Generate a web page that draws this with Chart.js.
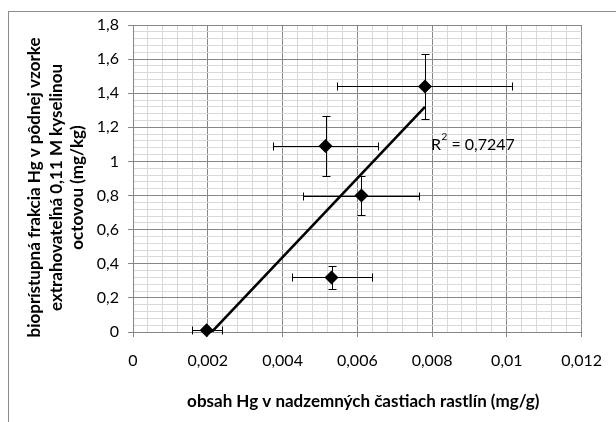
<!DOCTYPE html>
<html><head><meta charset="utf-8">
<script src="https://cdn.jsdelivr.net/npm/chart.js@4/dist/chart.umd.min.js"></script>
<style>html,body{margin:0;padding:0;background:#fff}#wrap{width:616px;height:422px;position:relative}</style>
</head><body><div id="wrap"><canvas id="c" width="616" height="422"></canvas></div>
<script>
// ---- data ----
const xValues = [0.00197, 0.00531, 0.00611, 0.00515, 0.00781];
const yValues = [0.01, 0.32, 0.80, 1.09, 1.44];
const xErrors = [0.0004, 0.00107, 0.00155, 0.0014, 0.00234];
const yErrors = [0.01, 0.065, 0.115, 0.175, 0.19];
const xTickLabels = ['0','0,002','0,004','0,006','0,008','0,01','0,012'];
const yTickLabels = ['0','0,2','0,4','0,6','0,8','1','1,2','1,4','1,6','1,8'];
const xTitle = 'obsah Hg v nadzemných častiach rastlín (mg/g)';
const yTitle = ['bioprístupná frakcia Hg v pôdnej vzorke','extrahovateľná 0,11 M kyselinou','octovou (mg/kg)'];
const r2Base = 'R', r2Sup = '2', r2Rest = ' = 0,7247';
const r2Anchor = [0.00797, 1.10];

// ---- linear trendline (least squares fit of the data) ----
const n = xValues.length;
const mx = xValues.reduce((a,b)=>a+b,0)/n, my = yValues.reduce((a,b)=>a+b,0)/n;
let sxy=0, sxx=0;
for (let i=0;i<n;i++){ sxy+=(xValues[i]-mx)*(yValues[i]-my); sxx+=(xValues[i]-mx)**2; }
const slope = sxy/sxx, icpt = my - slope*mx;
const xmin = Math.min(...xValues), xmax = Math.max(...xValues);
const trend = [{x:xmin, y:icpt+slope*xmin},{x:xmax, y:icpt+slope*xmax}];

const MINOR = '#d9d9d9', MAJOR = '#878787', FONT = 'Lato';
const isMajor = c => c.index % 5 === 0;

const frame = { id:'frame', beforeDraw(chart){
  const ctx = chart.ctx; ctx.save();
  ctx.fillStyle='#fff'; ctx.fillRect(0,0,chart.width,chart.height);
  ctx.strokeStyle='#8c8c8c'; ctx.lineWidth=1;
  ctx.strokeRect(8.5, 11.5, chart.width+20, chart.height+20);
  ctx.restore();
}};

const titles = { id:'titles', afterDraw(chart){
  const {ctx, chartArea:ca} = chart;
  ctx.save(); ctx.fillStyle='#000';
  ctx.font = 'bold 17px '+FONT; ctx.textAlign='center'; ctx.textBaseline='middle';
  // x-axis title
  ctx.fillText(xTitle, (ca.left+ca.right)/2 + 6, ca.bottom + 70);
  // y-axis title, rotated, 3 lines
  ctx.translate(35, (ca.top+ca.bottom)/2 + 9);
  ctx.rotate(-Math.PI/2);
  yTitle.forEach((line,i)=> ctx.fillText(line, 0, i*21.5));
  ctx.restore();
}};

const errorBars = { id:'errorBars', beforeDatasetsDraw(chart){
  const {ctx, scales:{x,y}} = chart;
  const r = v => Math.round(v)+0.5;
  ctx.save(); ctx.strokeStyle='#000'; ctx.lineWidth=1;
  xValues.forEach((xv,i)=>{
    const px=r(x.getPixelForValue(xv)), py=r(y.getPixelForValue(yValues[i]));
    const x0=r(x.getPixelForValue(xv-xErrors[i])), x1=r(x.getPixelForValue(xv+xErrors[i]));
    const y0=r(y.getPixelForValue(yValues[i]-yErrors[i])), y1=r(y.getPixelForValue(yValues[i]+yErrors[i]));
    const cap=4;
    ctx.beginPath();
    ctx.moveTo(x0,py);ctx.lineTo(x1,py);
    ctx.moveTo(x0,py-cap);ctx.lineTo(x0,py+cap);
    ctx.moveTo(x1,py-cap);ctx.lineTo(x1,py+cap);
    ctx.moveTo(px,y0);ctx.lineTo(px,y1);
    ctx.moveTo(px-cap,y0);ctx.lineTo(px+cap,y0);
    ctx.moveTo(px-cap,y1);ctx.lineTo(px+cap,y1);
    ctx.stroke();
  });
  ctx.restore();
}};

const r2Plugin = { id:'r2', afterDatasetsDraw(chart){
  const {ctx, scales:{x,y}} = chart;
  let px = x.getPixelForValue(r2Anchor[0]); const py = y.getPixelForValue(r2Anchor[1]);
  ctx.save(); ctx.fillStyle='#000'; ctx.textAlign='left'; ctx.textBaseline='middle';
  ctx.font='16px '+FONT; ctx.fillText(r2Base, px, py); px += ctx.measureText(r2Base).width + 0.5;
  ctx.font='10px '+FONT; ctx.fillText(r2Sup, px, py-8); px += ctx.measureText(r2Sup).width;
  ctx.font='16px '+FONT; ctx.fillText(r2Rest, px, py);
  ctx.restore();
}};

new Chart(document.getElementById('c'), {
  type:'scatter',
  data:{ datasets:[
    { label:'data', data:xValues.map((v,i)=>({x:v,y:yValues[i]})),
      pointStyle:'rectRot', pointRadius:7, backgroundColor:'#000', borderColor:'#000', borderWidth:0, clip:false, order:0 },
    { type:'line', label:'trend', data:trend, borderColor:'#000', borderWidth:2.6, pointRadius:0, fill:false, clip:0, order:1 }
  ]},
  options:{
    responsive:false, animation:false, devicePixelRatio:1,
    layout:{ padding:{ left:24, top:25, right:31, bottom:0 } },
    plugins:{ legend:{display:false}, tooltip:{enabled:false} },
    scales:{
      x:{ type:'linear', position:'bottom', min:0, max:0.012,
        afterFit(s){ s.height = 90; },
        ticks:{ stepSize:0.0004, autoSkip:false, maxRotation:0, maxTicksLimit:1000, padding:14, color:'#000',
          font:{family:FONT, size:16}, callback:(v,i)=> i%5===0 ? xTickLabels[i/5] : '' },
        grid:{ color:c=>isMajor(c)?MAJOR:MINOR, tickColor:c=>isMajor(c)?MAJOR:'rgba(0,0,0,0)', tickLength:5, lineWidth:1 },
        border:{ color:MAJOR },
        title:{ display:false, text:xTitle }
      },
      y:{ type:'linear', position:'left', min:0, max:1.8,
        afterFit(s){ s.width = 133-24; },
        ticks:{ stepSize:0.04, autoSkip:false, maxTicksLimit:1000, padding:9, color:'#000',
          font:{family:FONT, size:16}, callback:(v,i)=> i%5===0 ? yTickLabels[i/5] : '' },
        grid:{ color:c=>isMajor(c)?MAJOR:MINOR, tickColor:c=>isMajor(c)?MAJOR:'rgba(0,0,0,0)', tickLength:5, lineWidth:1 },
        border:{ color:MAJOR },
        title:{ display:false, text:yTitle }
      }
    }
  },
  plugins:[frame, errorBars, r2Plugin, titles]
});
</script></body></html>
